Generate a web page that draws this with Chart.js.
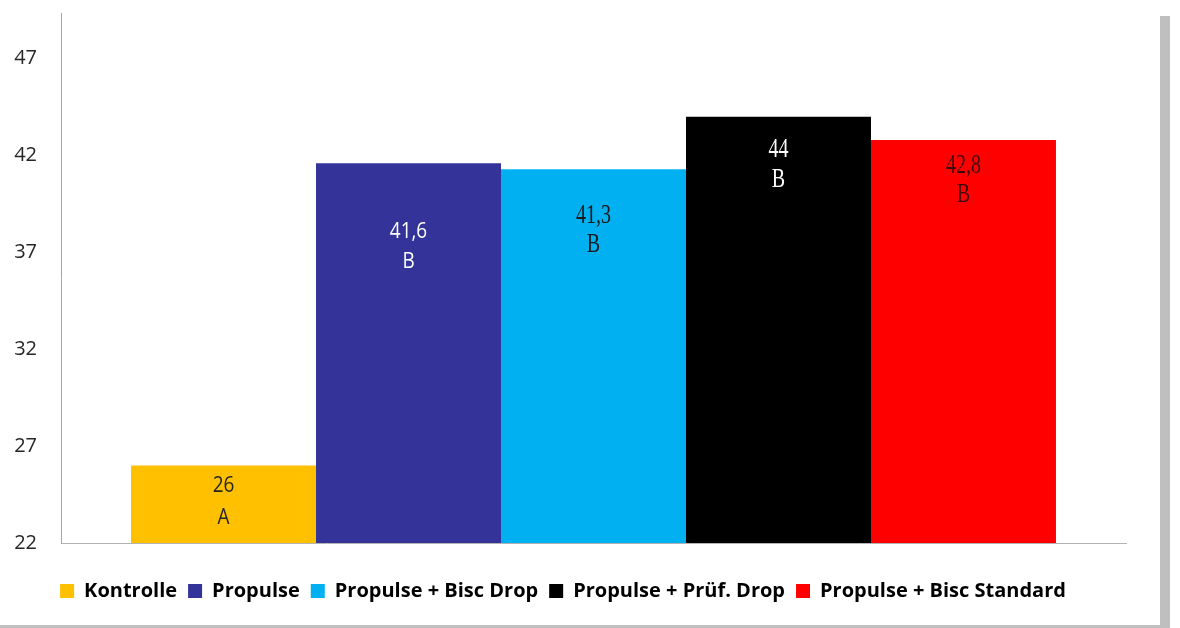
<!DOCTYPE html>
<html>
<head>
<meta charset="utf-8">
<script src="https://cdn.jsdelivr.net/npm/chart.js@4"></script>
<style>
  html, body { margin: 0; padding: 0; background: #fff; }
  #wrap { position: relative; width: 1180px; height: 628px; overflow: hidden; }
  #chart { position: absolute; left: 0; top: 0; }
  .edgeRight { position: absolute; left: 1160px; top: 16px; width: 10px; height: 612px; background: #bfbfbf; }
  .edgeBottom { position: absolute; left: 0; top: 625px; width: 1170px; height: 3px; background: #bfbfbf; }
</style>
</head>
<body>
<div id="wrap">
  <canvas id="chart" width="1180" height="628"></canvas>
  <div class="edgeRight"></div>
  <div class="edgeBottom"></div>
</div>
<script>
// data
const categories = [''];
const seriesNames = ['Kontrolle', 'Propulse', 'Propulse + Bisc Drop', 'Propulse + Prüf. Drop', 'Propulse + Bisc Standard'];
const seriesValues = [26, 41.6, 41.3, 44, 42.8];
const groupLetters = ['A', 'B', 'B', 'B', 'B'];
const tickLabels = [22, 27, 32, 37, 42, 47];

const seriesColors = ['#FFC000', '#333399', '#00B0F0', '#000000', '#FF0000'];

// how the labels inside the bars look (hand placed in the original)
const labelStyle = [
  { offset: 20, gap: 32, color: '#262626', font: '22px "Open Sans"', squeeze: 0.86 },
  { offset: 68, gap: 30, color: '#ffffff', font: '22px "Open Sans"', squeeze: 0.86 },
  { offset: 47, gap: 29, color: '#1a1a1a', font: '27px "Liberation Serif"', squeeze: 0.74 },
  { offset: 33, gap: 30, color: '#ffffff', font: '27px "Liberation Serif"', squeeze: 0.74 },
  { offset: 26, gap: 29, color: '#3a0a0a', font: '27px "Liberation Serif"', squeeze: 0.74 }
];

const fmt = (v) => String(v).replace('.', ',');

const barLabels = {
  id: 'barLabels',
  afterDatasetsDraw(chart) {
    const ctx = chart.ctx;
    chart.data.datasets.forEach((ds, i) => {
      const bar = chart.getDatasetMeta(i).data[0];
      const st = labelStyle[i];
      const lines = [fmt(ds.data[0]), groupLetters[i]];
      ctx.save();
      ctx.fillStyle = st.color;
      ctx.font = st.font;
      ctx.textAlign = 'center';
      ctx.textBaseline = 'middle';
      lines.forEach((t, k) => {
        ctx.save();
        ctx.translate(bar.x, bar.y + st.offset + k * st.gap);
        ctx.scale(st.squeeze, 1);
        ctx.fillText(t, 0, 0);
        ctx.restore();
      });
      ctx.restore();
    });
  }
};

const ctx = document.getElementById('chart').getContext('2d');
new Chart(ctx, {
  type: 'bar',
  data: {
    labels: categories,
    datasets: seriesNames.map((name, i) => ({
      label: name,
      data: [seriesValues[i]],
      backgroundColor: seriesColors[i],
      borderWidth: 0
    }))
  },
  options: {
    responsive: false,
    animation: false,
    devicePixelRatio: 1,
    categoryPercentage: 0.8685,
    barPercentage: 1,
    layout: { padding: { top: 13, right: 54, left: 0, bottom: 17 } },
    scales: {
      x: {
        grid: { display: false, drawTicks: false },
        ticks: { display: false },
        border: { display: true, color: '#b3b3b3', width: 1 },
        afterFit: (s) => { s.height = 27; s.paddingLeft = 0; s.paddingRight = 0; }
      },
      y: {
        min: 22,
        max: 49.36,
        grid: { display: false, drawTicks: false },
        border: { display: true, color: '#a6a6a6', width: 1 },
        afterBuildTicks: (s) => { s.ticks = tickLabels.map(v => ({ value: v })); },
        afterFit: (s) => { s.width = 61; s.paddingTop = 0; s.paddingBottom = 0; },
        ticks: {
          padding: 24,
          color: '#262626',
          font: { family: '"Open Sans"', size: 20 }
        }
      }
    },
    plugins: {
      legend: {
        position: 'bottom',
        labels: {
          boxWidth: 14,
          boxHeight: 14,
          padding: 11,
          color: '#000',
          font: { family: '"Open Sans"', size: 20, weight: 'bold' }
        }
      },
      tooltip: { enabled: false }
    }
  },
  plugins: [barLabels]
});
</script>
</body>
</html>
